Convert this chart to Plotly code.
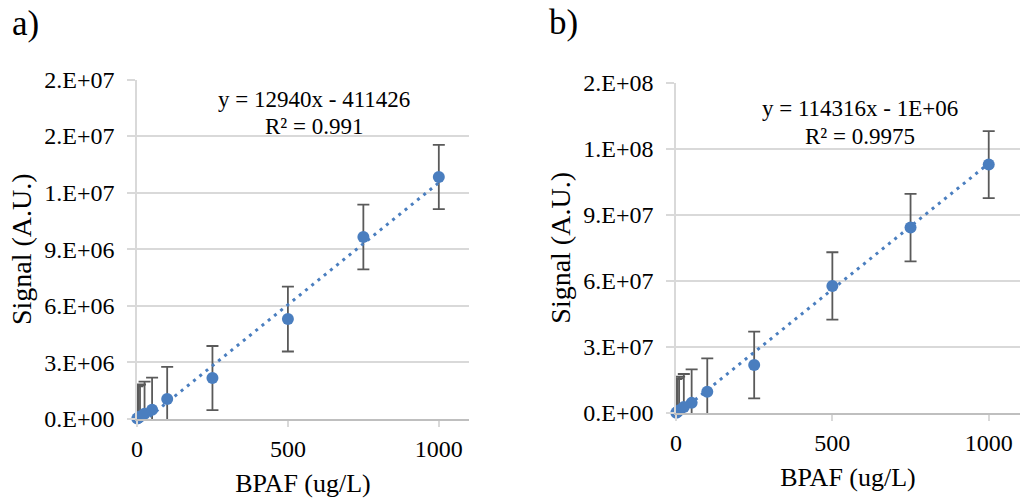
import plotly.graph_objects as go

# ---------------- data ----------------
conc = [1, 5, 10, 25, 50, 100, 250, 500, 750, 1000]

signal_a = [3.0e4, 7.0e4, 1.3e5, 2.8e5, 4.9e5, 1.06e6, 2.17e6, 5.30e6, 9.65e6, 1.283e7]
err_a = [1.70e6, 1.72e6, 1.70e6, 1.70e6, 1.70e6, 1.70e6, 1.70e6, 1.72e6, 1.72e6, 1.70e6]
slope_a, intercept_a = 12940, -411426
eq_a = "y = 12940x - 411426"
r2_a = "R² = 0.991"

signal_b = [1.5e5, 6.0e5, 1.2e6, 2.7e6, 4.6e6, 9.6e6, 2.18e7, 5.77e7, 8.42e7, 1.128e8]
err_b = [1.52e7, 1.52e7, 1.53e7, 1.50e7, 1.52e7, 1.52e7, 1.52e7, 1.53e7, 1.53e7, 1.52e7]
slope_b, intercept_b = 114316, -1e6
eq_b = "y = 114316x - 1E+06"
r2_b = "R² = 0.9975"

x_ticks = [0, 500, 1000]
y_ticks_a = [0, 3e6, 6e6, 9e6, 1.2e7, 1.5e7, 1.8e7]
y_labels_a = ["0.E+00", "3.E+06", "6.E+06", "9.E+06", "1.E+07", "2.E+07", "2.E+07"]
y_ticks_b = [0, 3e7, 6e7, 9e7, 1.2e8, 1.5e8]
y_labels_b = ["0.E+00", "3.E+07", "6.E+07", "9.E+07", "1.E+08", "2.E+08"]

# ---------------- style ----------------
BLUE = "#4A7EBF"
ERR = "#5A5A5A"
GRID = "#D9D9D9"
FONT = "Liberation Serif"
W, H = 1021, 499

fig = go.Figure()


def add_panel(xa, ya, y, err, slope, intercept):
    # error bars (clipped at axis)
    fig.add_trace(go.Scatter(
        x=conc, y=y, mode="markers", xaxis=xa, yaxis=ya,
        marker=dict(size=1, color="rgba(0,0,0,0)"),
        error_y=dict(type="data", array=err, visible=True, color=ERR,
                     thickness=1.8, width=6),
        cliponaxis=True, showlegend=False, hoverinfo="skip"))
    # linear trendline
    x0, x1 = min(conc), max(conc)
    fig.add_trace(go.Scatter(
        x=[x0, x1], y=[slope * x0 + intercept, slope * x1 + intercept],
        mode="lines", xaxis=xa, yaxis=ya,
        line=dict(color=BLUE, width=3, dash="3px,5px"),
        showlegend=False, hoverinfo="skip"))
    # markers
    fig.add_trace(go.Scatter(
        x=conc, y=y, mode="markers", xaxis=xa, yaxis=ya,
        marker=dict(size=12, color=BLUE),
        cliponaxis=False, showlegend=False))


add_panel("x", "y", signal_a, err_a, slope_a, intercept_a)
add_panel("x2", "y2", signal_b, err_b, slope_b, intercept_b)

tickfont = dict(family=FONT, size=24, color="#000000")

xcommon = dict(range=[0, 1100], tickvals=x_ticks, showgrid=False,
               showline=True, linecolor="#BFBFBF", linewidth=1.5,
               ticks="outside", ticklen=6, tickcolor=GRID, tickwidth=1.5,
               tickfont=tickfont, zeroline=False, automargin=False,
               ticklabelstandoff=1,
               title=dict(text="BPAF (ug/L)", standoff=13,
                          font=dict(family=FONT, size=26, color="#000000")))

ycommon = dict(showgrid=True, gridcolor=GRID, gridwidth=1.5,
               showline=True, linecolor=GRID, linewidth=1.5,
               ticks="outside", ticklen=8, tickcolor=GRID, tickwidth=1.5,
               ticklabelstandoff=8, zeroline=False, tickfont=tickfont,
               automargin=False,
               title=dict(text="Signal (A.U.)", standoff=4,
                          font=dict(family=FONT, size=28, color="#000000")))


def px(x):
    return x / W


def py(y):
    return 1 - y / H


fig.update_layout(
    template="none",
    width=W, height=H,
    margin=dict(l=0, r=0, t=0, b=0, pad=0),
    paper_bgcolor="white", plot_bgcolor="white",
    font=dict(family=FONT, color="#000000"),
    xaxis=dict(domain=[px(137), px(469)], anchor="y", **xcommon),
    xaxis2=dict(domain=[px(676), px(1020)], anchor="y2", **xcommon),
    yaxis=dict(domain=[py(419), py(79.5)], anchor="x", range=[0, 1.8e7],
               tickvals=y_ticks_a, ticktext=y_labels_a, **ycommon),
    yaxis2=dict(domain=[py(413), py(82.7)], anchor="x2", range=[0, 1.5e8],
                tickvals=y_ticks_b, ticktext=y_labels_b, **ycommon),
)

eqfont = dict(family=FONT, size=23, color="#000000")
ann = [
    dict(text="a)", x=px(10), y=py(23), xanchor="left", yanchor="middle",
         font=dict(family=FONT, size=35, color="#000000")),
    dict(text="b)", x=px(547), y=py(22), xanchor="left", yanchor="middle",
         font=dict(family=FONT, size=35, color="#000000")),
    dict(text=eq_a, x=px(314), y=py(100), xanchor="center", yanchor="middle", font=eqfont),
    dict(text=r2_a, x=px(314), y=py(127), xanchor="center", yanchor="middle", font=eqfont),
    dict(text=eq_b, x=px(860), y=py(108), xanchor="center", yanchor="middle", font=eqfont),
    dict(text=r2_b, x=px(860), y=py(137), xanchor="center", yanchor="middle", font=eqfont),
]
for a in ann:
    a.update(xref="paper", yref="paper", showarrow=False)
fig.update_layout(annotations=ann)

fig.write_html(
    "out.html",
    config={"displayModeBar": False},
    post_script="document.documentElement.style.margin='0';"
                "document.body.style.margin='0';document.body.style.padding='0';"
                "document.body.style.overflow='hidden';",
)
